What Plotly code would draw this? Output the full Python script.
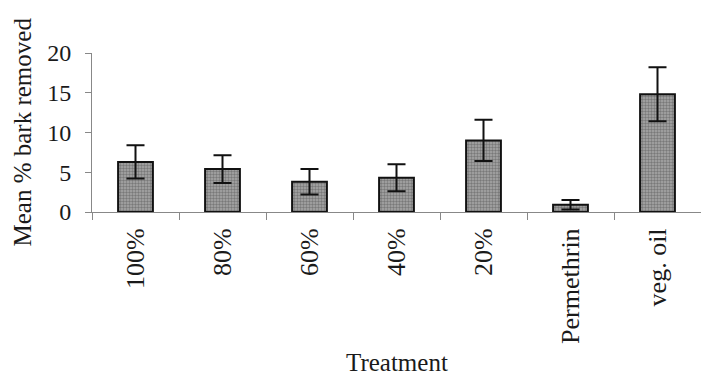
import plotly.graph_objects as go

treatments = ["100%", "80%", "60%", "40%", "20%", "Permethrin", "veg. oil"]
mean_removed = [6.3, 5.4, 3.8, 4.3, 9.0, 0.9, 14.8]
std_error = [2.1, 1.75, 1.6, 1.7, 2.6, 0.6, 3.4]
y_ticks = [0, 5, 10, 15, 20]

W, H = 701, 377
L, R, T, B = 92, 0, 53, 165
plot_w = W - L - R
plot_h = H - T - B

font_family = "Liberation Serif, Times New Roman, serif"

fig = go.Figure(
    go.Bar(
        x=treatments,
        y=mean_removed,
        error_y=dict(type="data", array=std_error, visible=True,
                     color="#111111", thickness=2, width=9),
        marker=dict(
            color="#808080",
            line=dict(color="#111111", width=2),
            pattern=dict(shape=".", bgcolor="#a8a8a8", fgcolor="#4a4a4a",
                         size=3, solidity=0.5),
        ),
        width=0.4,
    )
)

# category width in px; extend range so last boundary lies just past the edge
cat_px = 87.0
right_end = -0.5 + plot_w / cat_px

fig.update_layout(
    width=W, height=H,
    margin=dict(l=L, r=R, t=T, b=B),
    paper_bgcolor="white", plot_bgcolor="white",
    font=dict(family=font_family, color="#1a1a1a"),
    showlegend=False,
    xaxis=dict(
        range=[-0.5, right_end],
        tickangle=-90,
        tickfont=dict(size=26, family=font_family, color="#1a1a1a"),
        showline=True, linecolor="#888888", linewidth=1,
        ticks="outside", ticklen=7, tickcolor="#888888", tickwidth=1,
        tickson="boundaries",
        ticklabelstandoff=5,
        showgrid=False, zeroline=False,
    ),
    yaxis=dict(
        range=[0, 20],
        tickvals=y_ticks,
        tickfont=dict(size=24, family=font_family, color="#1a1a1a"),
        showline=True, linecolor="#888888", linewidth=1,
        ticks="outside", ticklen=6, tickcolor="#888888", tickwidth=1,
        ticklabelstandoff=9,
        showgrid=False, zeroline=False,
    ),
    annotations=[
        dict(text="Mean % bark removed", textangle=-90,
             xref="paper", yref="paper",
             x=(22 - L) / plot_w, y=0.5, xanchor="center", yanchor="middle",
             showarrow=False, font=dict(size=25, family=font_family, color="#1a1a1a")),
        dict(text="Treatment",
             xref="paper", yref="paper",
             x=(397 - L) / plot_w, y=-(362 - (T + plot_h)) / plot_h,
             xanchor="center", yanchor="middle",
             showarrow=False, font=dict(size=25, family=font_family, color="#1a1a1a")),
    ],
)

fig.write_html("out.html")
